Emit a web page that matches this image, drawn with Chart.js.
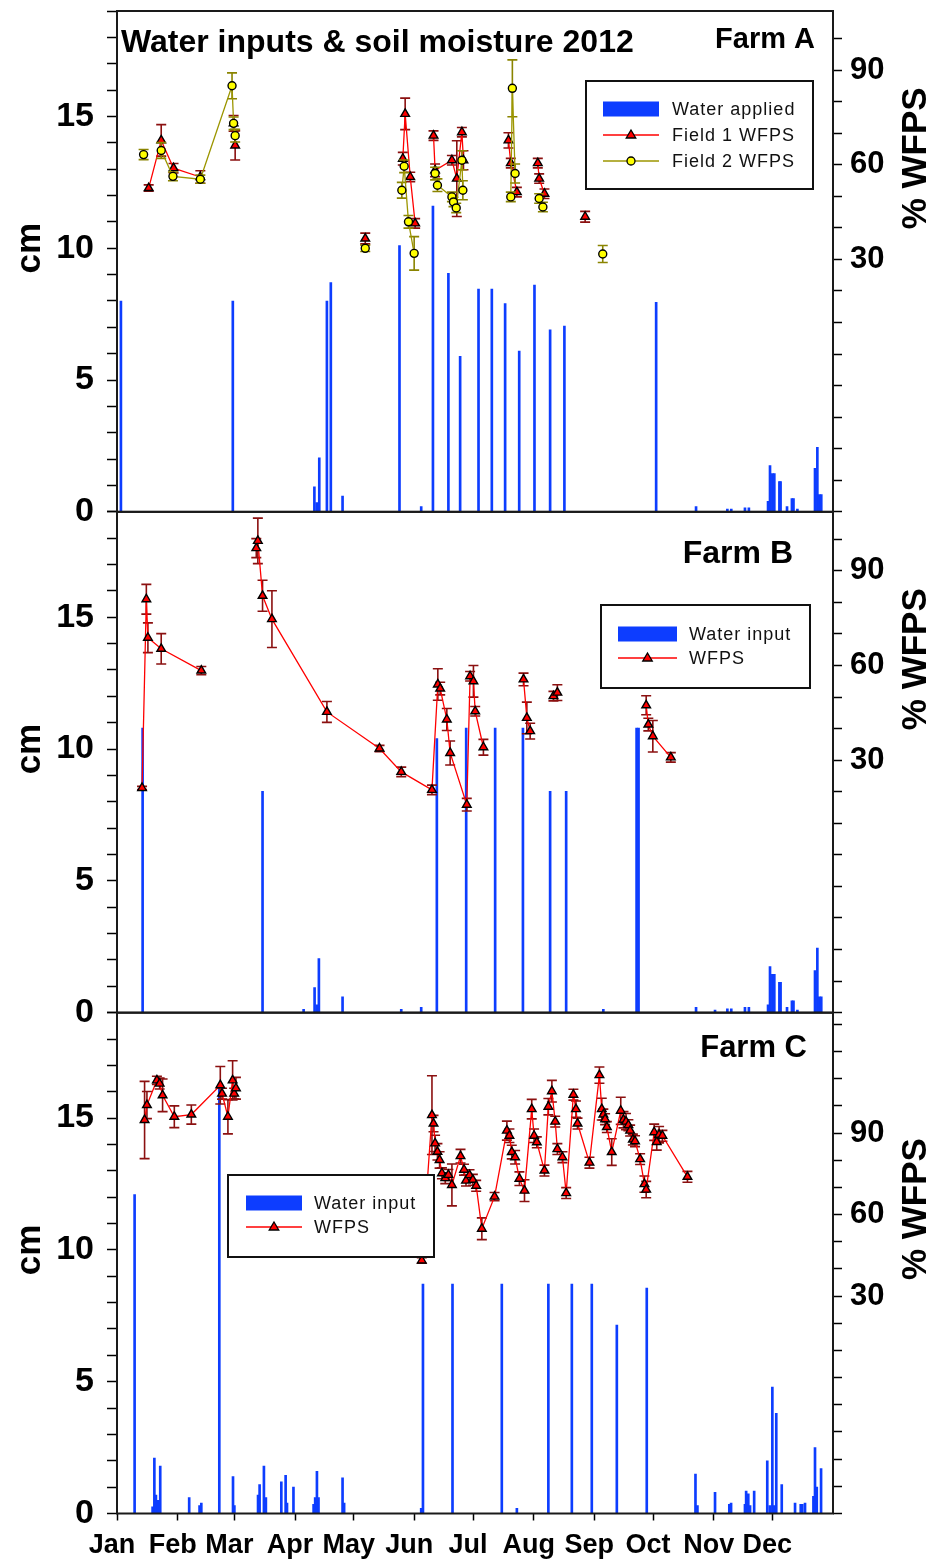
<!DOCTYPE html>
<html lang="en">
<head>
<meta charset="utf-8"/>
<title>Water inputs &amp; soil moisture 2012</title>
<script src="https://cdn.jsdelivr.net/npm/chart.js"></script>
<style>
  body { margin: 0; background: #fff; }
  #chart { display: block; }
</style>
</head>
<body>
<canvas id="chart" width="935" height="1566"></canvas>

<script>
  // x values are day of year 2012 (0 = 1 Jan)
  var monthStarts = [0, 31, 60, 91, 121, 152, 182, 213, 244, 274, 305, 335];
  var monthNames = ["Jan", "Feb", "Mar", "Apr", "May", "Jun", "Jul", "Aug", "Sep", "Oct", "Nov", "Dec"];

  // Farm A - water applied [day, cm]
  var waterA = [
    [2, 8.0], [59.2, 8.0], [100.9, 0.95], [102.1, 0.35], [103.4, 2.05], [107.3, 8.0], [109.3, 8.7],
    [115.3, 0.6], [144.4, 10.1], [155.5, 0.2], [161.5, 11.6], [169.4, 9.05], [175.4, 5.9],
    [184.8, 8.45], [191.6, 8.45], [198.4, 7.9], [205.6, 6.1], [213.4, 8.6], [221.4, 6.9],
    [228.7, 7.05], [275.6, 7.95], [296, 0.2], [312, 0.1], [314, 0.1], [321, 0.15], [323, 0.15],
    [332.8, 0.4], [333.8, 1.75], [335, 1.45], [336, 1.45], [338.6, 1.15], [339.2, 1.15],
    [342.5, 0.2], [345, 0.5], [345.8, 0.5], [347.8, 0.1], [356.8, 1.65], [358, 2.45], [359, 0.65], [360, 0.65]
  ];
  // Farm A - WFPS [day, %, error]; null = break in the line
  var field1A = [
    [16.2, 52.6, 1], [22.6, 67.7, 5], [28.9, 58.9, 1.5], [42.6, 56.1, 2], null,
    [59.6, 73.1, 2.5], [60.4, 66.1, 4.6], null,
    [126.9, 36.6, 1.7], null,
    [146.1, 61.9, 2], [147.3, 76.1, 5], [149.9, 56.1, 1.5], [152.4, 41.4, 1.5], null,
    [161.8, 69.2, 1.5], [162.6, 58.2, 2], [171.2, 61.4, 1.5], [173.7, 55.6, 12], [176.3, 70.3, 1.5], [177.1, 61.4, 3], null,
    [200.1, 67.7, 2.4], [201.3, 60.5, 1.5], [204.4, 51.3, 1.5], null,
    [215.1, 60.5, 1.5], [215.8, 55.6, 1.5], [218.5, 50.8, 1.5], null,
    [239.3, 43.5, 1.7]
  ];
  var field2A = [
    [13.6, 63.2, 1.6], null,
    [22.6, 64.5, 2.5], [28.6, 56.3, 1.4], [42.6, 55.4, 1.3], [58.8, 85.0, 4.1], [59.6, 73.1, 2], [60.4, 69.2, 2], null,
    [126.9, 33.5, 1], null,
    [145.6, 51.9, 2.5], [146.8, 59.5, 2], [149.0, 41.9, 2], [151.9, 31.9, 5.3], null,
    [162.6, 57.2, 2], [163.8, 53.5, 2], [171.2, 49.8, 1.5], [172.0, 48.2, 1.5], [173.4, 46.3, 1.5], [176.3, 61.4, 3], [176.8, 51.9, 3], null,
    [201.3, 49.8, 1.5], [202.1, 84.2, 9], [203.5, 57.2, 3], null,
    [215.8, 49.3, 1.5], [217.7, 46.6, 1.5], null,
    [248.3, 31.7, 2.7]
  ];

  // Farm B
  var waterB = [
    [13.1, 10.8], [74.4, 8.4], [95.4, 0.13], [101, 0.95], [102.1, 0.3], [103.2, 2.05], [115.3, 0.6],
    [145.3, 0.13], [155.5, 0.2], [163.5, 10.4], [178.5, 10.8], [193.3, 10.8], [207.5, 10.8],
    [221.4, 8.4], [229.6, 8.4], [248.6, 0.13], [265.6, 10.8], [266.6, 10.8], [296, 0.2], [305.7, 0.1],
    [312, 0.15], [314, 0.15], [321, 0.2], [323, 0.2], [332.8, 0.3], [333.8, 1.75], [335, 1.45], [336, 1.45],
    [338.6, 1.15], [339.2, 1.15], [342.5, 0.2], [345, 0.45], [345.8, 0.45], [347.8, 0.1],
    [356.8, 1.6], [358, 2.45], [359, 0.6], [360, 0.6]
  ];
  var wfpsB = [
    [12.8, 21.2, 0.5], [15.0, 81.0, 4.7], [15.8, 68.8, 4.7], [22.6, 65.3, 4.8], [43.1, 58.4, 1.3], null,
    [71.2, 97.2, 3], [72.0, 99.5, 7.2], [74.4, 82.1, 4.9], [79.2, 74.7, 9], [107.3, 45.3, 3.3],
    [134.2, 33.7, 1], [145.3, 26.3, 1.5], [161.0, 20.6, 1.5], [164.0, 54.0, 5], [165.2, 52.7, 2],
    [168.6, 42.9, 3.5], [170.3, 32.3, 3.8], [178.8, 15.9, 2], [180.5, 56.6, 1.5], [182.2, 55.0, 5],
    [183.1, 45.5, 1.5], [187.3, 34.1, 2.5], null,
    [207.8, 55.6, 2], [209.5, 43.4, 5], [211.2, 39.2, 2.5], null,
    [223.1, 50.3, 1.5], [225.1, 51.4, 2.5], null,
    [270.5, 47.4, 3], [271.6, 41.3, 2], [273.9, 37.6, 5], [283.1, 30.9, 1.5]
  ];

  // Farm C
  var waterC = [
    [9.0, 12.1], [18.2, 0.25], [19.1, 2.1], [19.9, 0.7], [20.7, 0.5], [21.6, 0.5], [22.1, 1.8],
    [36.9, 0.6], [42.2, 0.3], [43.1, 0.4], [52.3, 16.15], [59.3, 1.4], [60.0, 0.3], [72.1, 0.7],
    [72.9, 1.1], [75.1, 1.8], [76.1, 0.6], [84.0, 1.2], [86.2, 1.45], [86.9, 0.4], [90.2, 1.0],
    [100.5, 0.35], [101.3, 0.6], [102.2, 1.6], [103.0, 0.6], [115.3, 1.35], [116.1, 0.4],
    [155.5, 0.2], [156.4, 8.7], [171.5, 8.7], [196.7, 8.7], [204.4, 0.2], [220.5, 8.7], [232.5, 8.7],
    [242.7, 8.7], [255.5, 7.15], [270.8, 8.55], [295.7, 1.5], [296.7, 0.3], [305.7, 0.8], [313.0, 0.35],
    [313.9, 0.4], [321.0, 0.35], [321.6, 0.85], [322.7, 0.75], [323.6, 0.3], [325.7, 0.85], [332.4, 2.0],
    [333.7, 0.3], [335.0, 4.8], [335.9, 0.3], [337.0, 3.8], [339.8, 1.1], [346.6, 0.4], [349.5, 0.35],
    [350.3, 0.35], [351.7, 0.4], [356.0, 0.65], [356.8, 2.5], [357.7, 1.0], [359.9, 1.7]
  ];
  var wfpsC = [
    [14.1, 94.8, 14.2], [15.3, 100.3, 5], [20.4, 109.4, 1.5], [21.8, 108.2, 2], [23.3, 103.9, 6],
    [29.3, 96.0, 4], [38.0, 96.8, 3.5], [52.8, 107.6, 6.9], [53.7, 104.5, 2], [56.7, 96.0, 6.3],
    [59.1, 109.4, 7.2], [59.9, 104.5, 2], [60.8, 106.5, 4], null,
    [155.8, 43.1, 1], [161.0, 96.6, 14.5], [161.8, 93.5, 3], [162.6, 86.2, 3], [163.8, 83.1, 3],
    [164.9, 80.1, 3], [166.1, 75.2, 2], [167.8, 73.4, 2], [169.4, 74.6, 2], [171.2, 70.9, 7.7],
    [175.6, 81.5, 2.5], [177.4, 76.5, 2], [178.4, 72.5, 2], [180.2, 74.5, 2], [181.9, 72.8, 2],
    [183.6, 70.6, 2], [186.5, 54.8, 4], [193.0, 66.6, 1.5], [199.3, 90.9, 3.5], [200.6, 89.0, 2.5],
    [201.8, 83.0, 2.5], [203.5, 81.1, 2.5], [205.7, 73.2, 2.5], [208.3, 68.8, 4], [212.0, 98.8, 3.6],
    [213.2, 89.0, 2.5], [214.6, 86.6, 2], [218.5, 76.2, 2], [220.5, 99.7, 3], [222.3, 105.4, 4],
    [224.0, 94.2, 2], [225.1, 84.1, 2], [227.7, 81.1, 2], [229.6, 67.9, 2], [233.3, 104.1, 2],
    [234.6, 98.8, 3], [235.4, 93.5, 2], [241.5, 79.1, 2], [246.6, 111.3, 3], [247.8, 98.8, 4],
    [248.6, 96.8, 2], [249.5, 95.1, 2], [250.4, 92.2, 2], [252.9, 83.0, 4.9], [257.5, 98.2, 5],
    [258.9, 94.9, 3], [260.2, 94.2, 3], [261.4, 92.9, 2], [262.3, 90.9, 2], [263.7, 87.6, 2],
    [264.8, 87.0, 2], [267.4, 80.4, 2], [269.6, 71.2, 3], [270.5, 69.2, 3], [274.6, 90.3, 3],
    [275.9, 86.7, 3], [277.1, 89.4, 3], [278.8, 89.0, 2], [291.6, 73.9, 2]
  ];

  var BLUE = "#0d3dff";
  var RED = "#ff0000";
  var OLIVE = "#9c9600";
  var FONT = "'Liberation Sans', Arial, Helvetica, sans-serif";

  Chart.defaults.font.family = FONT;
  Chart.defaults.color = "#000";

  function toXY(rows) {
    var out = [], lastX = 0;
    rows.forEach(function (r) {
      if (r) { out.push({ x: r[0], y: r[1] }); lastX = r[0]; }
      else out.push({ x: lastX + 0.01, y: null });
    });
    return out;
  }

  function wfpsSet(label, rows, axis, color, errColor, style, fill, radius) {
    return {
      type: "line", label: label, yAxisID: axis,
      data: toXY(rows),
      errors: rows.map(function (r) { return r ? r[2] : null; }),
      errColor: errColor,
      borderColor: color, borderWidth: 1.3, tension: 0, spanGaps: false,
      pointStyle: style, pointRadius: radius, pointBackgroundColor: fill,
      pointBorderColor: "#000", pointBorderWidth: 1.4
    };
  }

  function waterSet(label, rows, axis) {
    return {
      type: "bar", label: label, yAxisID: axis, grouped: false,
      data: rows.map(function (r) { return { x: r[0], y: r[1] }; }),
      backgroundColor: BLUE, barThickness: 2
    };
  }

  var f2A = wfpsSet("Field 2 WFPS", field2A, "rA", OLIVE, "#8a8400", "circle", "#ffff00", 4);
  var f1A = wfpsSet("Field 1 WFPS", field1A, "rA", RED, "#8b1010", "triangle", RED, 5);
  var wB = wfpsSet("WFPS", wfpsB, "rB", RED, "#8b1010", "triangle", RED, 5);
  var wC = wfpsSet("WFPS", wfpsC, "rC", RED, "#8b1010", "triangle", RED, 5);

  function range(a, b, s) { var t = []; for (var v = a; v <= b; v += s) t.push({ value: v }); return t; }

  function cmAxis(weight) {
    return {
      type: "linear", position: "left", stack: "cm", stackWeight: 1, weight: weight,
      min: 0, max: 19,
      afterBuildTicks: function (s) { s.ticks = range(0, 19, 1); },
      afterFit: function (s) { s.width = 117; s.paddingTop = 0; s.paddingBottom = 0; },
      grid: { drawOnChartArea: false, tickLength: 10, tickColor: "#000", tickWidth: 1.5 },
      border: { display: false },
      ticks: {
        autoSkip: false, padding: 13, color: "#000", font: { size: 34, weight: "bold" },
        callback: function (v) { return v % 5 === 0 ? v : ""; }
      }
    };
  }

  function pctAxis(weight, max, top) {
    return {
      type: "linear", position: "right", stack: "pct", stackWeight: 1, weight: weight,
      min: -50, max: max,
      afterBuildTicks: function (s) { s.ticks = range(-50, top, 10); },
      afterFit: function (s) { s.width = 102; s.paddingTop = 0; s.paddingBottom = 0; },
      grid: { drawOnChartArea: false, tickLength: 9, tickColor: "#000", tickWidth: 1.5 },
      border: { display: false },
      ticks: {
        autoSkip: false, padding: 8, color: "#000", font: { size: 31, weight: "bold" },
        callback: function (v) { return [30, 60, 90].indexOf(v) >= 0 ? v : ""; }
      }
    };
  }

  // error bars drawn under each WFPS series
  var errorBars = {
    id: "errorBars",
    beforeDatasetDraw: function (chart, args) {
      var ds = chart.data.datasets[args.index];
      if (!ds.errors) return;
      var xs = chart.scales[args.meta.xAxisID], ys = chart.scales[args.meta.yAxisID];
      var ctx = chart.ctx;
      ctx.save();
      ctx.strokeStyle = ds.errColor;
      ctx.lineWidth = 1.6;
      ds.data.forEach(function (p, i) {
        var e = ds.errors[i];
        if (p.y === null || !e) return;
        var px = xs.getPixelForValue(p.x);
        var t = ys.getPixelForValue(p.y + e), b = ys.getPixelForValue(p.y - e);
        ctx.beginPath();
        ctx.moveTo(px, t); ctx.lineTo(px, b);
        ctx.moveTo(px - 5, t); ctx.lineTo(px + 5, t);
        ctx.moveTo(px - 5, b); ctx.lineTo(px + 5, b);
        ctx.stroke();
      });
      ctx.restore();
    }
  };

  function marker(ctx, style, x, y, r, fill) {
    ctx.beginPath();
    if (style === "triangle") {
      ctx.moveTo(x, y - r);
      ctx.lineTo(x + r * 0.95, y + r * 0.6);
      ctx.lineTo(x - r * 0.95, y + r * 0.6);
      ctx.closePath();
    } else {
      ctx.arc(x, y, r, 0, Math.PI * 2);
    }
    ctx.fillStyle = fill; ctx.fill();
    ctx.lineWidth = 1.3; ctx.strokeStyle = "#000"; ctx.stroke();
  }

  // legend boxes: frame, swatch left/width, text x, row centres
  var legends = [
    { box: [586, 81, 227, 108], sx: 603, sw: 56, tx: 672, rows: [109, 135, 161],
      items: [{ bar: true, label: "Water applied" }, { set: f1A }, { set: f2A }] },
    { box: [601, 605, 209, 83], sx: 618, sw: 59, tx: 689, rows: [634, 658],
      items: [{ bar: true, label: "Water input" }, { set: wB }] },
    { box: [228, 1175, 206, 82], sx: 246, sw: 56, tx: 314, rows: [1203, 1227],
      items: [{ bar: true, label: "Water input" }, { set: wC }] }
  ];

  var panelText = {
    id: "panelText",
    afterDatasetsDraw: function (chart) {
      var ctx = chart.ctx, a = chart.chartArea;
      ctx.save();
      ctx.strokeStyle = "#1a1a1a";
      ctx.lineWidth = 2;
      ["yA", "yB", "yC"].forEach(function (id) {
        var s = chart.scales[id];
        ctx.strokeRect(a.left, s.top, a.right - a.left, s.bottom - s.top);
      });
      ctx.restore();
    },
    afterDraw: function (chart) {
      var ctx = chart.ctx;
      ctx.save();
      ctx.fillStyle = "#000";
      ctx.textBaseline = "alphabetic";
      ctx.font = "bold 32px " + FONT;
      ctx.textAlign = "left";
      ctx.fillText("Water inputs & soil moisture 2012", 121, 52);
      ctx.textAlign = "right";
      ctx.font = "bold 29px " + FONT;
      ctx.fillText("Farm A", 815, 48);
      ctx.font = "bold 32px " + FONT;
      ctx.fillText("Farm B", 793, 563);
      ctx.font = "bold 31px " + FONT;
      ctx.fillText("Farm C", 807, 1057);

      // axis titles
      ctx.font = "bold 35px " + FONT;
      ctx.textAlign = "center";
      ctx.textBaseline = "middle";
      [["yA", "rA"], ["yB", "rB"], ["yC", "rC"]].forEach(function (p) {
        var yc = chart.scales[p[0]].getPixelForValue(10);
        var yr = chart.scales[p[1]].getPixelForValue(62);
        ctx.save(); ctx.translate(30, yc); ctx.rotate(-Math.PI / 2); ctx.fillText("cm", 0, 0); ctx.restore();
        ctx.save(); ctx.translate(916, yr); ctx.rotate(-Math.PI / 2); ctx.fillText("% WFPS", 0, 0); ctx.restore();
      });

      // legends
      legends.forEach(function (lg) {
        var b = lg.box;
        ctx.fillStyle = "#fff";
        ctx.fillRect(b[0], b[1], b[2], b[3]);
        ctx.strokeStyle = "#111";
        ctx.lineWidth = 2;
        ctx.strokeRect(b[0], b[1], b[2], b[3]);
        lg.items.forEach(function (it, i) {
          var y = lg.rows[i];
          if (it.bar) {
            ctx.fillStyle = BLUE;
            ctx.fillRect(lg.sx, y - 7.5, lg.sw, 15);
          } else {
            var s = it.set;
            ctx.strokeStyle = s.borderColor; ctx.lineWidth = 1.5;
            ctx.beginPath(); ctx.moveTo(lg.sx, y); ctx.lineTo(lg.sx + lg.sw, y); ctx.stroke();
            marker(ctx, s.pointStyle, lg.sx + lg.sw / 2, y, s.pointRadius, s.pointBackgroundColor);
          }
          ctx.fillStyle = "#111";
          ctx.font = "18px " + FONT;
          if ("letterSpacing" in ctx) ctx.letterSpacing = "1px";
          ctx.textAlign = "left";
          ctx.textBaseline = "middle";
          ctx.fillText(it.bar ? it.label : it.set.label, lg.tx, y + 1);
          if ("letterSpacing" in ctx) ctx.letterSpacing = "0px";
        });
      });
      ctx.restore();
    }
  };

  var chart = new Chart(document.getElementById("chart"), {
    type: "bar",
    data: {
      datasets: [
        f2A, f1A, wB, wC,
        waterSet("Water applied", waterA, "yA"),
        waterSet("Water input", waterB, "yB"),
        waterSet("Water input", waterC, "yC")
      ]
    },
    options: {
      responsive: false,
      animation: false,
      layout: { padding: { top: 11, left: 0, right: 0, bottom: 0 } },
      plugins: { legend: { display: false }, tooltip: { enabled: false } },
      scales: {
        x: {
          type: "linear", position: "bottom", min: 0, max: 366, offset: false,
          afterBuildTicks: function (s) { s.ticks = monthStarts.map(function (v) { return { value: v }; }); },
          afterFit: function (s) { s.height = 52.5; s.paddingLeft = 0; s.paddingRight = 0; },
          grid: { drawOnChartArea: false, offset: false, tickLength: 7, tickColor: "#000", tickWidth: 1.5 },
          border: { display: false },
          ticks: {
            autoSkip: false, maxRotation: 0, minRotation: 0, padding: 9, labelOffset: -5,
            color: "#000", font: { size: 27, weight: "bold" },
            callback: function (v) { return monthNames[monthStarts.indexOf(v)]; }
          }
        },
        yA: cmAxis(3), yB: cmAxis(2), yC: cmAxis(1),
        rA: pctAxis(1, 108.7, 100), rB: pctAxis(2, 108.7, 100), rC: pctAxis(3, 134.3, 130)
      }
    },
    plugins: [errorBars, panelText]
  });
</script>
</body>
</html>
